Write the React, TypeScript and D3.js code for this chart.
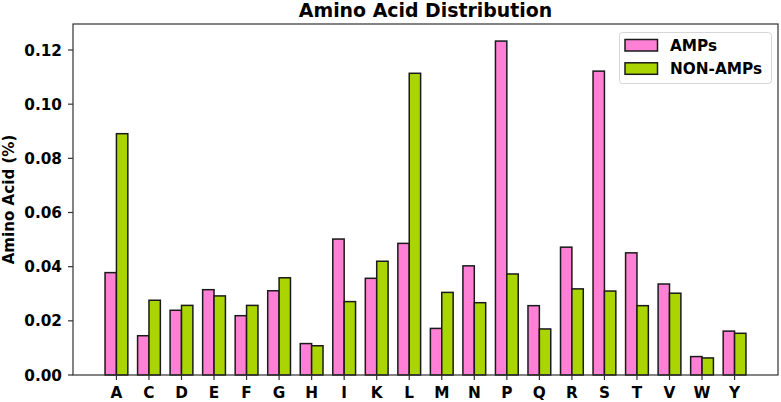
import React from 'react';
import * as d3 from 'd3';

const aminoAcids = ['A', 'C', 'D', 'E', 'F', 'G', 'H', 'I', 'K', 'L', 'M', 'N', 'P', 'Q', 'R', 'S', 'T', 'V', 'W', 'Y'];
const ampValues = [0.0378, 0.0145, 0.0239, 0.0315, 0.0219, 0.0311, 0.0116, 0.0502, 0.0357, 0.0486, 0.0172, 0.0403, 0.1233, 0.0256, 0.0472, 0.1122, 0.0451, 0.0336, 0.0068, 0.0162];
const nonAmpValues = [0.0891, 0.0276, 0.0257, 0.0292, 0.0257, 0.0359, 0.0108, 0.0271, 0.0420, 0.1114, 0.0305, 0.0267, 0.0373, 0.0170, 0.0318, 0.0310, 0.0256, 0.0302, 0.0063, 0.0154];
const yTicks = [0, 0.02, 0.04, 0.06, 0.08, 0.1, 0.12];
const seriesNames = ['AMPs', 'NON-AMPs'];
const seriesColors = ['#ff80d4', '#aad402'];

const W = 781;
const H = 402;
const left = 73;
const right = 778;
const top = 24;
const bottom = 375;
const barW = 0.35;
const font = '"DejaVu Sans", sans-serif';
const fs = 15.3;

export default function App() {
  const x = d3.scaleLinear().domain([-1.335, aminoAcids.length - 1 + 1.335]).range([left, right]);
  const y = d3.scaleLinear().domain([0, 0.1296]).range([bottom, top]);
  const series = [ampValues, nonAmpValues];

  return (
    <svg width={W} height={H} style={{ position: 'absolute', left: 0, top: 0, fontFamily: font }}>
      <rect width={W} height={H} fill="#fff" />
      {series.map((vals, s) =>
        vals.map((v, i) => {
          const x0 = s === 0 ? x(i - barW) : x(i);
          const x1 = s === 0 ? x(i) : x(i + barW);
          return (
            <rect
              key={`${s}-${i}`}
              x={x0}
              y={y(v)}
              width={x1 - x0}
              height={y(0) - y(v)}
              fill={seriesColors[s]}
              stroke="#1a1a1a"
              strokeWidth={1.5}
            />
          );
        })
      )}
      <rect x={left} y={top} width={right - left} height={bottom - top} fill="none" stroke="#333" strokeWidth={1.2} />
      {yTicks.map(t => (
        <g key={t}>
          <line x1={left - 5} x2={left} y1={y(t)} y2={y(t)} stroke="#333" strokeWidth={1.2} />
          <text x={left - 11} y={y(t)} dy="0.36em" textAnchor="end" fontSize={fs} fontWeight="bold">
            {t.toFixed(2)}
          </text>
        </g>
      ))}
      {aminoAcids.map((a, i) => (
        <g key={a}>
          <line x1={x(i)} x2={x(i)} y1={bottom} y2={bottom + 5} stroke="#333" strokeWidth={1.2} />
          <text x={x(i)} y={bottom + 22.5} textAnchor="middle" fontSize={fs} fontWeight="bold">
            {a}
          </text>
        </g>
      ))}
      <text
        transform={`translate(14, ${(top + bottom) / 2}) rotate(-90)`}
        textAnchor="middle"
        fontSize={15.1}
        fontWeight="bold"
      >
        Amino Acid (%)
      </text>
      <text x={(left + right) / 2} y={17} textAnchor="middle" fontSize={18.9} fontWeight="bold">
        Amino Acid Distribution
      </text>
      <g>
        <rect x={619.5} y={32.5} width={152} height={51} rx={3} fill="#fff" fillOpacity={0.8} stroke="#d6d6d6" />
        {seriesNames.map((n, k) => (
          <g key={n}>
            <rect x={625} y={39.5 + k * 23.3} width={32.5} height={11.5} fill={seriesColors[k]} stroke="#1a1a1a" strokeWidth={1.5} />
            <text x={670} y={45.3 + k * 23.3} dy="0.36em" fontSize={fs} fontWeight="bold">
              {n}
            </text>
          </g>
        ))}
      </g>
    </svg>
  );
}
